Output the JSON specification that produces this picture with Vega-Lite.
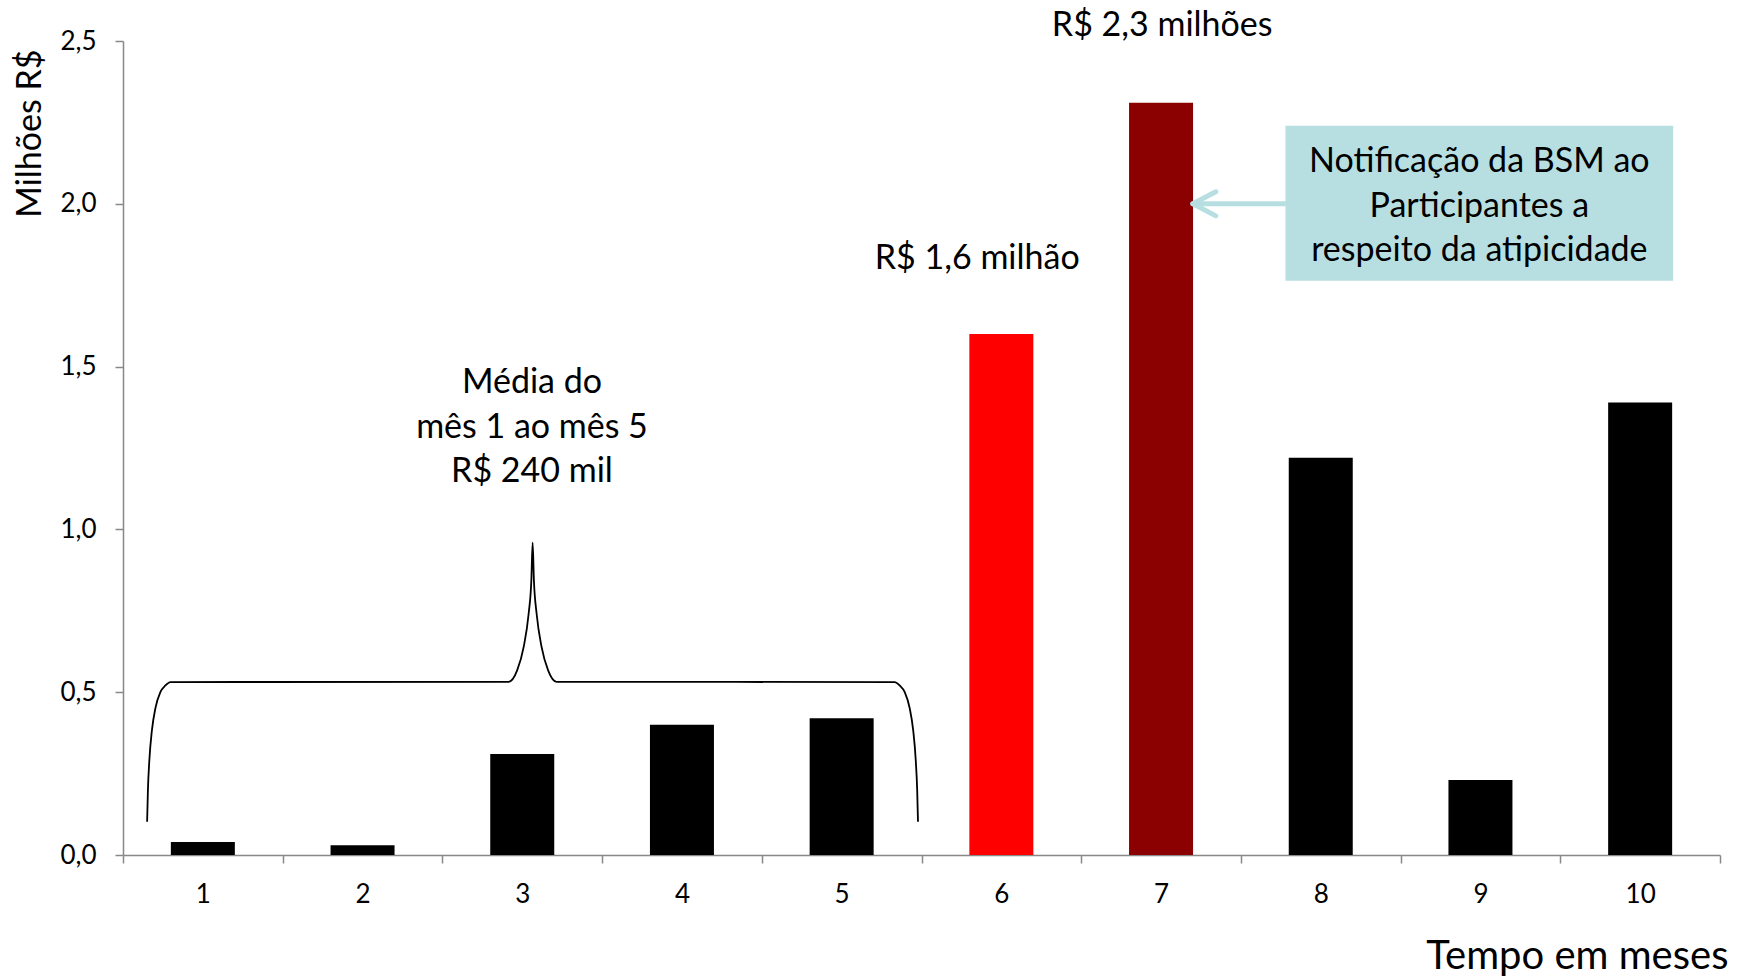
{
  "$schema": "https://vega.github.io/schema/vega-lite/v6.json",
  "width": 1597,
  "height": 814,
  "autosize": {"type": "none"},
  "padding": {"left": 123, "top": 41, "right": 28, "bottom": 121},
  "background": "white",
  "config": {"view": {"stroke": null}, "font": "Lato", "axis": {"grid": false}},
  "datasets": {
    "meses": [
      {"mes": 1, "valor": 0.04, "destaque": "normal"},
      {"mes": 2, "valor": 0.03, "destaque": "normal"},
      {"mes": 3, "valor": 0.31, "destaque": "normal"},
      {"mes": 4, "valor": 0.40, "destaque": "normal"},
      {"mes": 5, "valor": 0.42, "destaque": "normal"},
      {"mes": 6, "valor": 1.60, "destaque": "primeiro pico"},
      {"mes": 7, "valor": 2.31, "destaque": "pico"},
      {"mes": 8, "valor": 1.22, "destaque": "normal"},
      {"mes": 9, "valor": 0.23, "destaque": "normal"},
      {"mes": 10, "valor": 1.39, "destaque": "normal"}
    ],
    "chave": [
      {"seq": 1, "mes": 0.651, "valor": 0.102},
      {"seq": 2, "mes": 0.656, "valor": 0.199},
      {"seq": 3, "mes": 0.665, "valor": 0.291},
      {"seq": 4, "mes": 0.681, "valor": 0.383},
      {"seq": 5, "mes": 0.703, "valor": 0.451},
      {"seq": 6, "mes": 0.734, "valor": 0.500},
      {"seq": 7, "mes": 0.766, "valor": 0.521},
      {"seq": 8, "mes": 0.797, "valor": 0.531},
      {"seq": 9, "mes": 2.915, "valor": 0.532},
      {"seq": 10, "mes": 2.968, "valor": 0.567},
      {"seq": 11, "mes": 3.009, "valor": 0.639},
      {"seq": 12, "mes": 3.040, "valor": 0.741},
      {"seq": 13, "mes": 3.057, "valor": 0.844},
      {"seq": 14, "mes": 3.065, "valor": 0.959},
      {"seq": 15, "mes": 3.073, "valor": 0.844},
      {"seq": 16, "mes": 3.090, "valor": 0.741},
      {"seq": 17, "mes": 3.121, "valor": 0.639},
      {"seq": 18, "mes": 3.162, "valor": 0.567},
      {"seq": 19, "mes": 3.215, "valor": 0.532},
      {"seq": 20, "mes": 5.332, "valor": 0.531},
      {"seq": 21, "mes": 5.363, "valor": 0.521},
      {"seq": 22, "mes": 5.395, "valor": 0.500},
      {"seq": 23, "mes": 5.426, "valor": 0.451},
      {"seq": 24, "mes": 5.448, "valor": 0.383},
      {"seq": 25, "mes": 5.464, "valor": 0.291},
      {"seq": 26, "mes": 5.473, "valor": 0.199},
      {"seq": 27, "mes": 5.478, "valor": 0.102}
    ],
    "seta": [
      {"parte": "haste", "seq": 1, "mes": 7.779, "valor": 2.0},
      {"parte": "haste", "seq": 2, "mes": 7.199, "valor": 2.0},
      {"parte": "ponta", "seq": 1, "mes": 7.343, "valor": 2.037},
      {"parte": "ponta", "seq": 2, "mes": 7.199, "valor": 2.0},
      {"parte": "ponta", "seq": 3, "mes": 7.343, "valor": 1.963}
    ],
    "caixa": [
      {"mes": 7.779, "mes_fim": 10.207, "valor": 1.764, "valor_fim": 2.240}
    ],
    "textos": [
      {"mes": 7.007, "valor": 2.555, "texto": "R$ 2,3 milhões"},
      {"mes": 5.849, "valor": 1.839, "texto": "R$ 1,6 milhão"},
      {"mes": 3.061, "valor": 1.459, "texto": "Média do"},
      {"mes": 3.061, "valor": 1.322, "texto": "mês 1 ao mês 5"},
      {"mes": 3.061, "valor": 1.185, "texto": "R$ 240 mil"},
      {"mes": 8.993, "valor": 2.137, "texto": "Notificação da BSM ao"},
      {"mes": 8.993, "valor": 2.0, "texto": "Participantes a"},
      {"mes": 8.993, "valor": 1.863, "texto": "respeito da atipicidade"}
    ]
  },
  "encoding": {
    "x": {
      "field": "mes",
      "type": "quantitative",
      "scale": {"domain": [0.5, 10.5], "nice": false, "zero": false, "padding": 0},
      "axis": {
        "values": [0.5, 1.5, 2.5, 3.5, 4.5, 5.5, 6.5, 7.5, 8.5, 9.5, 10.5],
        "labelExpr": "datum.value < 10 ? format(datum.value + 0.5, 'd') : ''",
        "labelOffset": 79.85,
        "labelOverlap": false,
        "labelFlush": false,
        "labelBound": false,
        "labelFont": "Lato",
        "labelFontSize": 26,
        "labelColor": "#000000",
        "labelBaseline": "middle",
        "labelPadding": 31,
        "tickSize": 8,
        "tickWidth": 1.5,
        "tickColor": "#888888",
        "domainColor": "#888888",
        "domainWidth": 1.5,
        "title": "Tempo em meses",
        "titleFont": "Lato",
        "titleFontSize": 40,
        "titleFontWeight": "normal",
        "titleColor": "#000000",
        "titleAlign": "right",
        "titleBaseline": "alphabetic",
        "titleX": 1605,
        "titleY": 113
      }
    },
    "y": {
      "field": "valor",
      "type": "quantitative",
      "scale": {"domain": [0, 2.5], "nice": false, "padding": 0},
      "axis": {
        "values": [0, 0.5, 1, 1.5, 2, 2.5],
        "labelExpr": "replace(format(datum.value, '.1f'), '.', ',')",
        "labelFont": "Lato",
        "labelFontSize": 26,
        "labelColor": "#000000",
        "labelPadding": 19,
        "tickSize": 8,
        "tickWidth": 1.5,
        "tickColor": "#888888",
        "domainColor": "#888888",
        "domainWidth": 1.5,
        "title": "Milhões R$",
        "titleFont": "Lato",
        "titleFontSize": 34,
        "titleFontWeight": "normal",
        "titleColor": "#000000",
        "titleAngle": -90,
        "titleAlign": "right",
        "titleBaseline": "middle",
        "titleX": -93,
        "titleY": 8
      }
    }
  },
  "layer": [
    {
      "data": {"name": "meses"},
      "mark": {"type": "bar", "orient": "vertical", "width": 64},
      "encoding": {
        "color": {
          "field": "destaque",
          "type": "nominal",
          "scale": {"domain": ["normal", "primeiro pico", "pico"], "range": ["#000000", "#FF0000", "#8B0000"]},
          "legend": null
        }
      }
    },
    {
      "data": {"name": "chave"},
      "mark": {"type": "line", "interpolate": "monotone", "color": "#000000", "strokeWidth": 1.8},
      "encoding": {
        "order": {"field": "seq", "type": "quantitative"}
      }
    },
    {
      "data": {"name": "seta"},
      "mark": {"type": "line", "color": "#B7DFE2", "strokeWidth": 5, "strokeCap": "round", "strokeJoin": "round"},
      "encoding": {
        "detail": {"field": "parte", "type": "nominal"},
        "order": {"field": "seq", "type": "quantitative"}
      }
    },
    {
      "data": {"name": "caixa"},
      "mark": {"type": "rect", "color": "#B7DFE2"},
      "encoding": {
        "x2": {"field": "mes_fim"},
        "y2": {"field": "valor_fim"}
      }
    },
    {
      "data": {"name": "textos"},
      "mark": {"type": "text", "font": "Lato", "fontSize": 34, "color": "#000000", "align": "center", "baseline": "middle", "dy": 3},
      "encoding": {
        "text": {"field": "texto", "type": "nominal"}
      }
    }
  ]
}
